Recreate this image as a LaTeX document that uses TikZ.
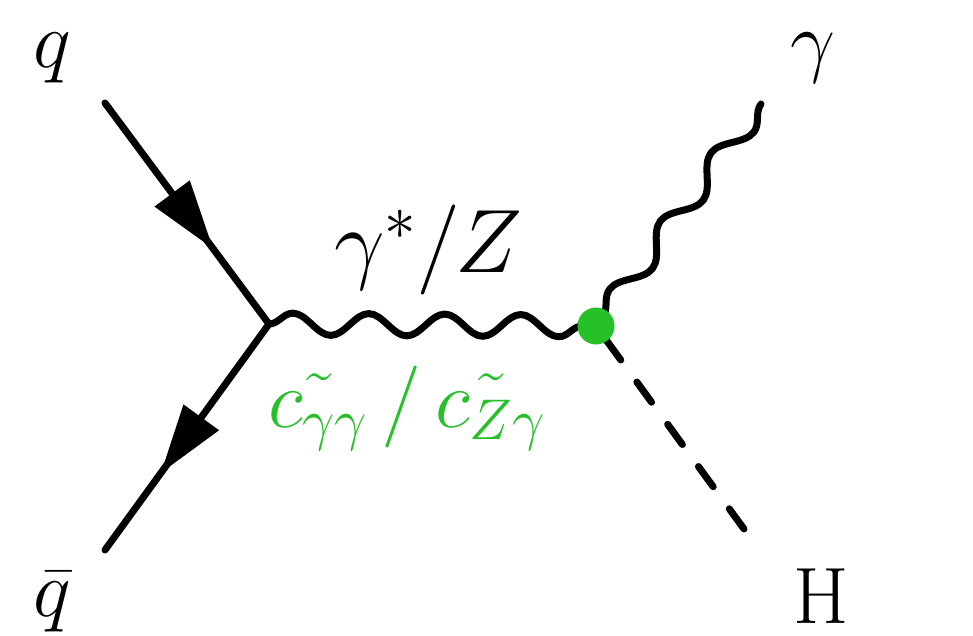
\documentclass[tikz,border=0pt]{standalone}
\usepackage{fix-cm}
\usetikzlibrary{decorations.pathmorphing,decorations.markings,arrows.meta}
\definecolor{vgreen}{RGB}{38,192,41}
\newcommand\hitil[1]{\mbox{\rlap{$\smash{\tilde{\rule{0pt}{47pt}\hphantom{\scriptstyle#1}}}$}$\scriptstyle#1$}}
\begin{document}
\begin{tikzpicture}[x=1pt,y=-1pt,
  fermion/.style={line width=7pt, line cap=round, postaction={decorate},
    decoration={markings, mark=at position 0.66 with {\arrow{Triangle[length=69pt,width=42pt]}}}},
  photon/.style={line width=7pt, line cap=round, line join=round, decorate,
    decoration={snake, amplitude=11pt, segment length=#1}},
  scalar/.style={line width=7pt, line cap=round, dash pattern=on 25pt off 27.3pt},
  vdot/.style={circle, fill=vgreen, minimum size=37pt, inner sep=0pt},
  lbl/.style={anchor=base west, inner sep=0pt, font=\fontsize{80}{96}\selectfont},
  biglbl/.style={anchor=base west, inner sep=0pt, font=\fontsize{90}{108}\selectfont},
  glbl/.style={anchor=base west, inner sep=0pt, text=vgreen, font=\fontsize{82}{98}\selectfont}]
\useasboundingbox (0,0) rectangle (973,635);
\coordinate (qin) at (105,103);
\coordinate (qbout) at (105,550);
\coordinate (v1) at (269,324);
\coordinate (v2) at (596,326);
\coordinate (gend) at (761,104);
\coordinate (hend) at (744,529);
\draw[fermion] (qin) -- (v1);
\draw[fermion] (v1) -- (qbout);
\draw[photon=76pt] (v1) -- (v2);
\draw[photon=85pt] (gend) -- (v2);
\draw[scalar] (hend) -- (v2);
\node[vdot] (dot) at (v2) {};
\node[lbl] (lq) at (33,67) {$q$};
\node[lbl] (lqb) at (33,616) {$\bar{q}$};
\node[lbl] (lg) at (790,67) {$\gamma$};
\node[lbl] (lh) at (793,623) {$\mathrm{H}$};
\node[biglbl] (lgz) at (334,272) {$\gamma^*/Z$};
\node[glbl] (lc) at (268,427) {$c_{\hitil{\gamma}\gamma}\mkern3mu/\mkern3mu c_{\hitil{Z}\gamma}$};
\end{tikzpicture}
\end{document}
